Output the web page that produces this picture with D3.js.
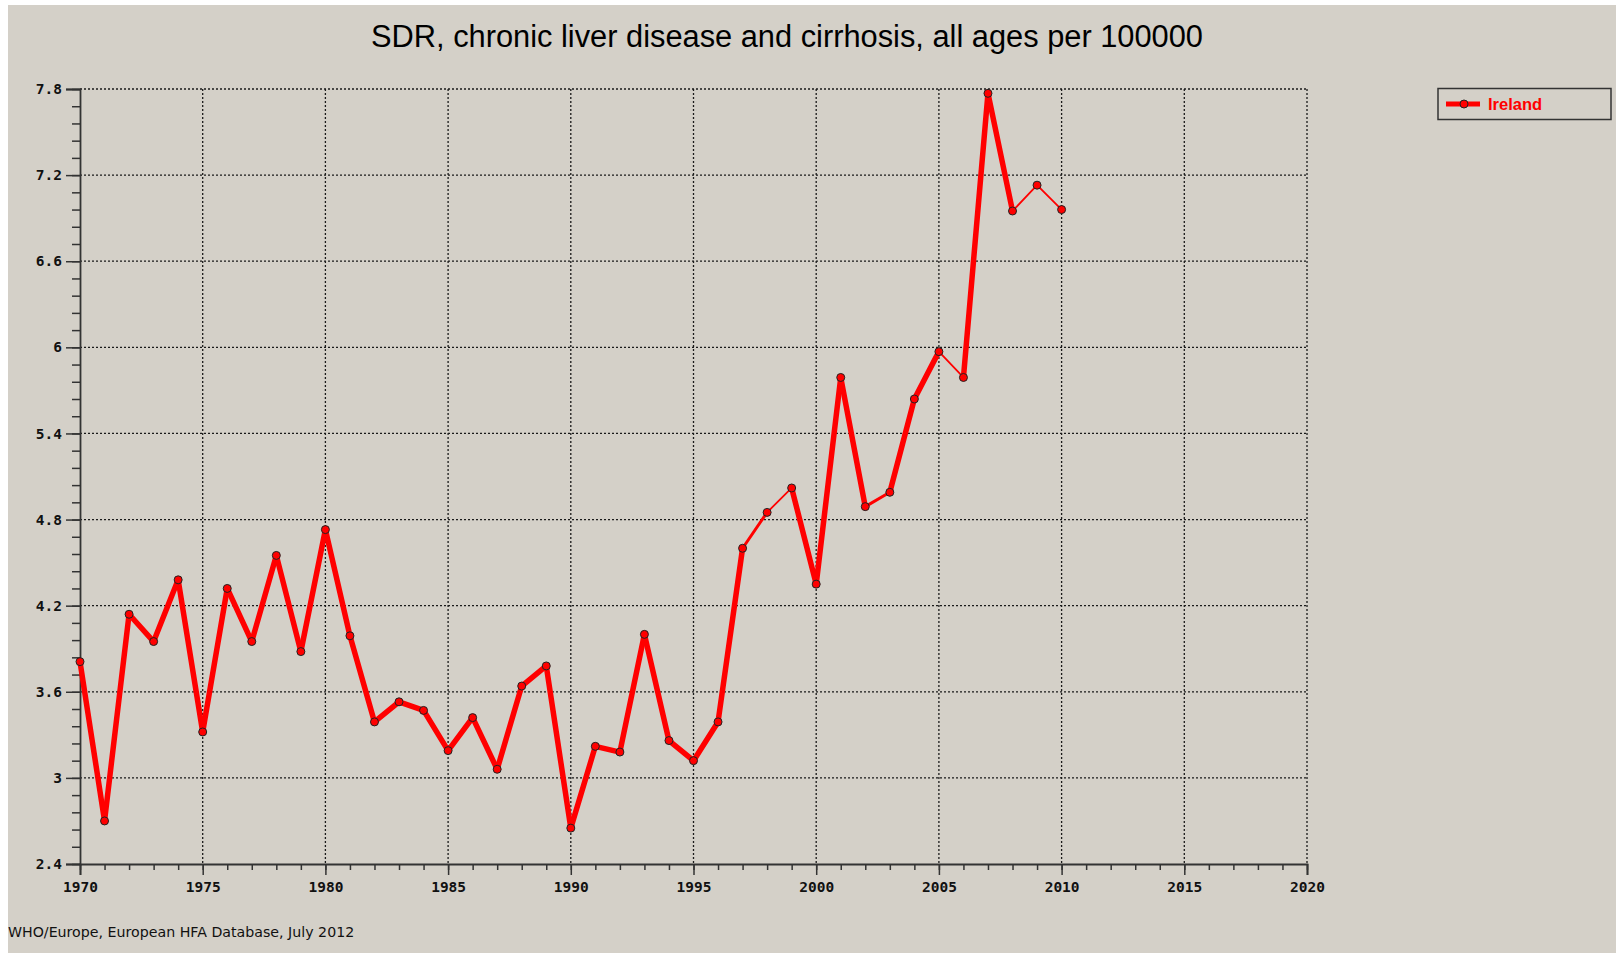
<!DOCTYPE html>
<html>
<head>
<meta charset="utf-8">
<script src="https://cdn.jsdelivr.net/npm/d3@7"></script>
<style>
  html, body { margin: 0; padding: 0; background: #ffffff; }
  svg { display: block; }
</style>
</head>
<body>
<div id="chart-container"></div>
<script>
// page size
const containerWidth = 1616;
const containerHeight = 953;

// data
const years = [1970, 1971, 1972, 1973, 1974, 1975, 1976, 1977, 1978, 1979,
  1980, 1981, 1982, 1983, 1984, 1985, 1986, 1987, 1988, 1989,
  1990, 1991, 1992, 1993, 1994, 1995, 1996, 1997, 1998, 1999,
  2000, 2001, 2002, 2003, 2004, 2005, 2006, 2007, 2008, 2009, 2010];
const ireland = [3.81, 2.70, 4.14, 3.95, 4.38, 3.32, 4.32, 3.95, 4.55, 3.88,
  4.73, 3.99, 3.39, 3.53, 3.47, 3.19, 3.42, 3.06, 3.64, 3.78,
  2.65, 3.22, 3.18, 4.00, 3.26, 3.12, 3.39, 4.60, 4.85, 5.02,
  4.35, 5.79, 4.89, 4.99, 5.64, 5.97, 5.79, 7.77, 6.95, 7.13, 6.96];
const xTicks = [1970, 1975, 1980, 1985, 1990, 1995, 2000, 2005, 2010, 2015, 2020];
const yTicks = [2.4, 3, 3.6, 4.2, 4.8, 5.4, 6, 6.6, 7.2, 7.8];
const yTickLabels = ["2.4", "3", "3.6", "4.2", "4.8", "5.4", "6", "6.6", "7.2", "7.8"];

const title = "SDR, chronic liver disease and cirrhosis, all ages per 100000";
const source = "WHO/Europe, European HFA Database, July 2012";
const seriesName = "Ireland";

const bg = "#d4d0c8";
const red = "#ff0000";

const svg = d3.select("#chart-container")
  .append("svg")
  .attr("width", containerWidth)
  .attr("height", containerHeight);

// grey panel (white strip on left and top)
svg.append("rect")
  .attr("x", 8).attr("y", 5)
  .attr("width", containerWidth - 8)
  .attr("height", containerHeight - 5)
  .attr("fill", bg);

const x = d3.scaleLinear().domain([1970, 2020]).range([80, 1307]);
const y = d3.scaleLinear().domain([2.4, 7.8]).range([864, 89]);

// title
svg.append("text")
  .attr("x", 787)
  .attr("y", 47)
  .attr("text-anchor", "middle")
  .style("font-family", "'Liberation Sans', Arial, sans-serif")
  .style("font-size", "30.8px")
  .attr("fill", "#000")
  .text(title);

// dotted grid
const grid = svg.append("g");
grid.selectAll("line.vg")
  .data(xTicks.slice(1))
  .enter().append("line")
  .attr("x1", d => x(d)).attr("x2", d => x(d))
  .attr("y1", y(7.8)).attr("y2", y(2.4));
grid.selectAll("line.hg")
  .data(yTicks.slice(1))
  .enter().append("line")
  .attr("x1", x(1970)).attr("x2", x(2020))
  .attr("y1", d => y(d)).attr("y2", d => y(d));
grid.selectAll("line")
  .attr("stroke", "#1a1a1a")
  .attr("stroke-width", 1.3)
  .attr("stroke-dasharray", "2,2");

const tickFont = "'DejaVu Sans Mono', 'Liberation Mono', monospace";

// minor ticks
const minorY = d3.range(0, 46).map(i => 2.4 + i * 0.12);
svg.append("g")
  .attr("transform", `translate(${x(1970)},0)`)
  .call(d3.axisLeft(y).tickValues(minorY).tickSize(8).tickFormat(""))
  .call(g => g.select(".domain").remove());
const minorX = d3.range(1970, 2021);
svg.append("g")
  .attr("transform", `translate(0,${y(2.4)})`)
  .call(d3.axisBottom(x).tickValues(minorX).tickSize(6).tickFormat(""))
  .call(g => g.select(".domain").remove());

// major axes
const yAxis = svg.append("g")
  .attr("transform", `translate(${x(1970)},0)`)
  .call(d3.axisLeft(y).tickValues(yTicks).tickSize(14).tickPadding(4)
    .tickFormat((d, i) => yTickLabels[i]));
const xAxis = svg.append("g")
  .attr("transform", `translate(0,${y(2.4)})`)
  .call(d3.axisBottom(x).tickValues(xTicks).tickSize(11).tickPadding(6)
    .tickFormat(d3.format("d")));

svg.selectAll(".tick line").attr("stroke", "#333").attr("stroke-width", 1.5);
svg.selectAll(".domain").attr("stroke", "#333").attr("stroke-width", 1.8);
svg.selectAll(".tick text")
  .style("font-family", tickFont)
  .style("font-size", "14.5px")
  .style("font-weight", "bold")
  .attr("fill", "#111");
xAxis.selectAll(".tick text").attr("dy", "0.75em");

// line segments, thinner where the original draws a thin stroke
const thinEnd = [1999, 2006, 2009, 2010];
const midEnd = [1998, 2003];
const pts = years.map((yr, i) => ({ yr: yr, v: ireland[i] }));
const segs = d3.pairs(pts);
svg.append("g").selectAll("line")
  .data(segs)
  .enter().append("line")
  .attr("x1", d => x(d[0].yr)).attr("y1", d => y(d[0].v))
  .attr("x2", d => x(d[1].yr)).attr("y2", d => y(d[1].v))
  .attr("stroke", red)
  .attr("stroke-linecap", "round")
  .attr("stroke-width", d => thinEnd.includes(d[1].yr) ? 1.8 : (midEnd.includes(d[1].yr) ? 3 : 5.5));

svg.append("g").selectAll("circle")
  .data(pts)
  .enter().append("circle")
  .attr("cx", d => x(d.yr))
  .attr("cy", d => y(d.v))
  .attr("r", 4)
  .attr("fill", red)
  .attr("stroke", "#222")
  .attr("stroke-width", 1);

// legend
const legend = svg.append("g");
legend.append("rect")
  .attr("x", 1438).attr("y", 88.5)
  .attr("width", 173).attr("height", 31)
  .attr("fill", "none")
  .attr("stroke", "#333")
  .attr("stroke-width", 1.5);
legend.append("line")
  .attr("x1", 1446).attr("x2", 1480)
  .attr("y1", 104).attr("y2", 104)
  .attr("stroke", red).attr("stroke-width", 5);
legend.append("circle")
  .attr("cx", 1464).attr("cy", 104).attr("r", 4)
  .attr("fill", red).attr("stroke", "#222").attr("stroke-width", 1);
legend.append("text")
  .attr("x", 1488).attr("y", 109.5)
  .style("font-family", "'Liberation Sans', Arial, sans-serif")
  .style("font-size", "16.5px")
  .style("font-weight", "bold")
  .attr("fill", red)
  .text(seriesName);

// source note
svg.append("text")
  .attr("x", 8).attr("y", 937)
  .style("font-family", "'DejaVu Sans', Verdana, sans-serif")
  .style("font-size", "14.2px")
  .attr("fill", "#111")
  .text(source);
</script>
</body>
</html>
